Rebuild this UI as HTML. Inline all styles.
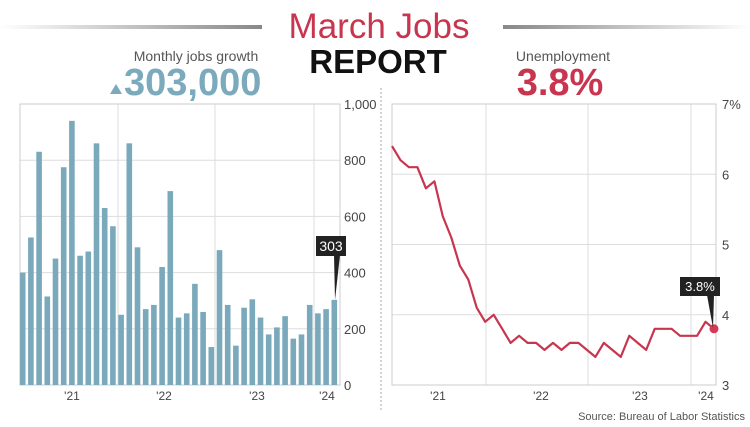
<!DOCTYPE html>
<html><head><meta charset="utf-8"><style>
html,body{margin:0;padding:0;background:#fff;}
svg{display:block;font-family:"Liberation Sans",sans-serif;}
</style></head><body>
<svg id="s" width="750" height="427" viewBox="0 0 750 427" xmlns="http://www.w3.org/2000/svg">
<defs>
<linearGradient id="gl" x1="0" x2="1"><stop offset="0" stop-color="#fff"/><stop offset="1" stop-color="#888"/></linearGradient>
<linearGradient id="gr" x1="0" x2="1"><stop offset="0" stop-color="#888"/><stop offset="1" stop-color="#fff"/></linearGradient>
</defs>
<rect x="0" y="25" width="262" height="4" fill="url(#gl)"/>
<rect x="503" y="25" width="247" height="4" fill="url(#gr)"/>
<text x="379" y="38" text-anchor="middle" font-size="35" fill="#c8354f">March Jobs</text>
<text x="378" y="73" text-anchor="middle" font-size="33" font-weight="bold" fill="#111">REPORT</text>
<text x="196" y="61" text-anchor="middle" font-size="14" fill="#555">Monthly jobs growth</text>
<polygon points="110,94 122,94 116,84" fill="#7baabd"/>
<text x="124" y="95" font-size="38" font-weight="bold" fill="#7baabd">303,000</text>
<text x="563" y="61" text-anchor="middle" font-size="14" fill="#555">Unemployment</text>
<text x="560" y="95" text-anchor="middle" font-size="38" font-weight="bold" fill="#c8354f">3.8%</text>
<line x1="381" y1="88" x2="381" y2="410" stroke="#aaa" stroke-dasharray="2,2"/>
<g id="L"></g><g id="R"></g>
<text x="745" y="420" text-anchor="end" font-size="11" fill="#555">Source: Bureau of Labor Statistics</text>
</svg>
<script>
var ns="http://www.w3.org/2000/svg";
function el(p,t,a,txt){var e=document.createElementNS(ns,t);for(var k in a)e.setAttribute(k,a[k]);if(txt)e.textContent=txt;p.appendChild(e);return e;}
var L=document.getElementById("L"),R=document.getElementById("R");
// left
var x0=20,x1=340,yt=104,yb=385;
[0,200,400,600,800,1000].forEach(function(v){var y=yb-(v/1000)*(yb-yt);el(L,"line",{x1:x0,x2:x1,y1:y,y2:y,stroke:"#ddd"});el(L,"text",{x:344,y:y+5,"font-size":13,fill:"#444"},v==1000?"1,000":String(v));});
[118,215,314].forEach(function(x){el(L,"line",{x1:x,x2:x,y1:yt,y2:yb,stroke:"#ddd"});});
el(L,"rect",{x:x0,y:yt,width:x1-x0,height:yb-yt,fill:"none",stroke:"#ccc"});
var b=[400,525,830,315,450,775,940,460,475,860,630,565,250,860,490,270,285,420,690,240,255,360,260,135,480,285,140,275,305,240,180,205,245,165,180,285,255,270,303];
b.forEach(function(v,i){var c=22.6+i*8.2,h=v/1000*(yb-yt);el(L,"rect",{x:c-2.7,y:yb-h,width:5.6,height:h,fill:"#7aa9bc"});});
[[72,"'21"],[164,"'22"],[257,"'23"],[327,"'24"]].forEach(function(t){el(L,"text",{x:t[0],y:400,"text-anchor":"middle","font-size":12,fill:"#444"},t[1]);});
el(L,"rect",{x:316,y:236,width:30,height:20,fill:"#222"});
el(L,"polygon",{points:"334,255 340,255 335,300",fill:"#222"});
el(L,"text",{x:331,y:251,"text-anchor":"middle","font-size":14,fill:"#fff"},"303");
// right
var a0=392,a1=716;
function yv(v){return yt+(7-v)/4*(yb-yt);}
[3,4,5,6,7].forEach(function(v){var y=yv(v);el(R,"line",{x1:a0,x2:a1,y1:y,y2:y,stroke:"#ddd"});el(R,"text",{x:722,y:y+(v==7?5:5),"font-size":13,fill:"#444"},v==7?"7%":String(v));});
[486,588,691].forEach(function(x){el(R,"line",{x1:x,x2:x,y1:yt,y2:yb,stroke:"#ddd"});});
el(R,"rect",{x:a0,y:yt,width:a1-a0,height:yb-yt,fill:"none",stroke:"#ccc"});
var u=[6.4,6.2,6.1,6.1,5.8,5.9,5.4,5.1,4.7,4.5,4.1,3.9,4.0,3.8,3.6,3.7,3.6,3.6,3.5,3.6,3.5,3.6,3.6,3.5,3.4,3.6,3.5,3.4,3.7,3.6,3.5,3.8,3.8,3.8,3.7,3.7,3.7,3.9,3.8];
var pts=u.map(function(v,i){return (a0+i*(714-a0)/38).toFixed(1)+","+yv(v).toFixed(1);}).join(" ");
el(R,"polyline",{points:pts,fill:"none",stroke:"#c8354f","stroke-width":2.2,"stroke-linejoin":"round"});
el(R,"circle",{cx:714,cy:yv(3.8),r:4.5,fill:"#d53a55"});
el(R,"rect",{x:680,y:277,width:40,height:19,fill:"#222"});
el(R,"polygon",{points:"707,295 714,295 713,328",fill:"#222"});
el(R,"text",{x:700,y:291,"text-anchor":"middle","font-size":13,fill:"#fff"},"3.8%");
[[438,"'21"],[541,"'22"],[640,"'23"],[706,"'24"]].forEach(function(t){el(R,"text",{x:t[0],y:400,"text-anchor":"middle","font-size":12,fill:"#444"},t[1]);});
</script>
</body></html>
